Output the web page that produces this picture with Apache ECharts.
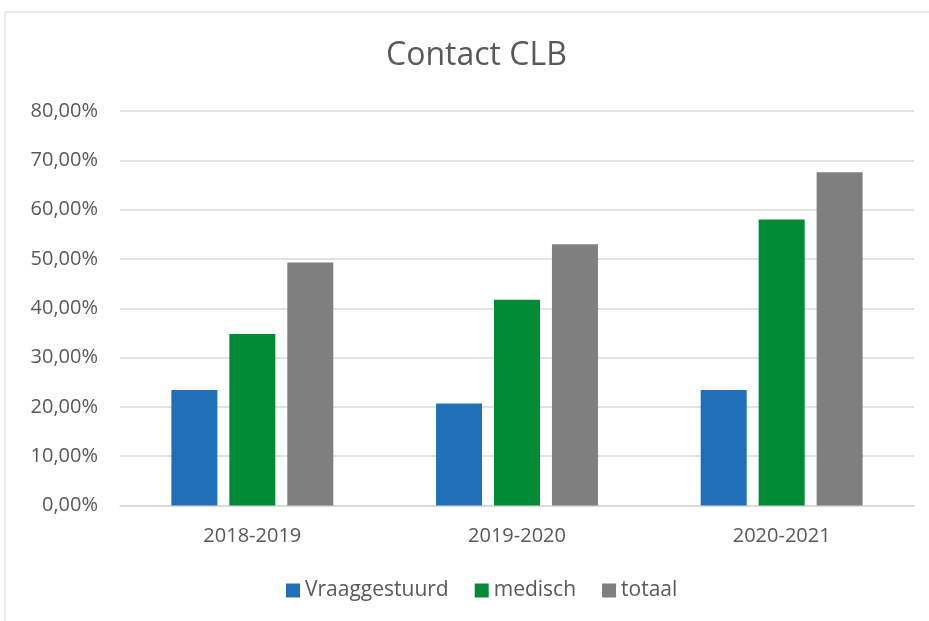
<!DOCTYPE html>
<html>
<head>
<meta charset="utf-8">
<script src="https://cdn.jsdelivr.net/npm/echarts@6/dist/echarts.min.js"></script>
<style>
html,body{margin:0;padding:0;background:#fff;}
#main{width:929px;height:621px;}
</style>
</head>
<body>
<div id="main"></div>
<script>
const categories = ['2018-2019', '2019-2020', '2020-2021'];
const vraaggestuurd = [23.4, 20.7, 23.4];
const medisch = [34.8, 41.7, 58.0];
const totaal = [49.3, 53.0, 67.6];
const seriesNames = ['Vraaggestuurd', 'medisch', 'totaal'];
const colors = ['#1F70B8', '#008A36', '#7F7F7F'];

const chart = echarts.init(document.getElementById('main'), null, {renderer: 'canvas'});
const font = '"Open Sans", sans-serif';
const textColor = '#595959';

function bar(name, data, color) {
  return {
    name: name,
    type: 'bar',
    data: data,
    barWidth: 46,
    barGap: '26%',
    itemStyle: {color: color},
    emphasis: {disabled: true}
  };
}

chart.setOption({
  animation: false,
  backgroundColor: '#ffffff',
  graphic: [
    {type: 'line', shape: {x1: 5, y1: 12, x2: 940, y2: 12}, style: {stroke: '#D9D9D9', lineWidth: 1}},
    {type: 'line', shape: {x1: 5, y1: 12, x2: 5, y2: 640}, style: {stroke: '#D9D9D9', lineWidth: 1}}
  ],
  title: {
    text: 'Contact CLB',
    left: 381,
    top: 35,
    textStyle: {fontFamily: font, fontSize: 32, fontWeight: 'normal', color: textColor}
  },
  legend: {
    data: seriesNames,
    left: 281,
    top: 575,
    itemWidth: 14,
    itemHeight: 14,
    itemGap: 26,
    icon: 'rect',
    textStyle: {fontFamily: font, fontSize: 21, color: textColor}
  },
  grid: {left: 120, right: 15, top: 111, bottom: 115.5, containLabel: false},
  xAxis: {
    type: 'category',
    data: categories,
    axisLine: {lineStyle: {color: '#D9D9D9', width: 1.5}},
    axisTick: {show: false},
    axisLabel: {fontFamily: font, fontSize: 20, color: textColor, margin: 21}
  },
  yAxis: {
    type: 'value',
    min: 0,
    max: 80,
    interval: 10,
    axisLine: {show: false},
    axisTick: {show: false},
    splitLine: {lineStyle: {color: '#D9D9D9', width: 1.5}},
    axisLabel: {
      fontFamily: font, fontSize: 20, color: textColor, margin: 22,
      formatter: v => v.toFixed(2).replace('.', ',') + '%'
    }
  },
  series: [
    bar(seriesNames[0], vraaggestuurd, colors[0]),
    bar(seriesNames[1], medisch, colors[1]),
    bar(seriesNames[2], totaal, colors[2])
  ]
});
</script>
</body>
</html>
